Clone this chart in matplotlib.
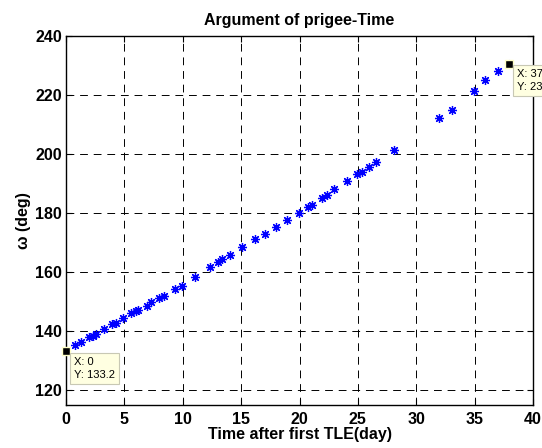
import matplotlib
matplotlib.use("Agg")
import matplotlib.pyplot as plt

plt.rcParams['font.family'] = ['Liberation Sans', 'DejaVu Sans']

days = [0.0, 0.77, 1.28, 1.97, 2.31, 2.57, 3.25, 3.94, 4.28, 4.88, 5.57, 6.00, 6.17,
        6.94, 7.28, 7.97, 8.39, 9.34, 9.94, 11.05, 12.33, 13.02, 13.36, 14.05,
        15.07, 16.19, 17.04, 17.99, 18.93, 19.96, 20.73, 21.07, 21.93, 22.36,
        22.96, 24.07, 24.93, 25.35, 25.95, 26.55, 28.09, 31.95, 33.06, 34.95,
        35.89, 37.00, 37.94]
omega = [133.2, 135.2, 136.2, 137.9, 138.5, 138.9, 140.6, 142.3, 142.9, 144.6, 146.0,
         147.0, 147.3, 148.7, 150.0, 151.4, 152.0, 154.4, 155.4, 158.4, 161.8,
         163.5, 164.5, 165.9, 168.6, 171.3, 173.0, 175.3, 177.7, 180.0, 182.1,
         182.7, 185.1, 186.1, 188.1, 190.8, 193.2, 193.9, 195.5, 197.2, 201.3,
         212.1, 215.1, 221.2, 225.2, 228.3, 230.6]

tip_first = (0, 133.2)
tip_first_text = "X: 0\nY: 133.2"
tip_last = (37.94, 230.6)
tip_last_text = "X: 37.94\nY: 230.6"

FS = 11.5

fig = plt.figure(figsize=(5.42, 4.48), dpi=100)
ax = fig.add_axes([66/542, 1-405/448, (533-66)/542, (405-36)/448])

ax.plot(days, omega, linestyle='none', marker=(8, 2, 0), markersize=6.5,
        color='#0000ff', markeredgewidth=0.9)

ax.set_xlim(0, 40)
ax.set_ylim(115, 240)
ax.set_xticks(range(0, 41, 5))
ax.set_yticks(range(120, 241, 20))
ax.grid(True, color='black', linestyle=(0, (8, 6)), linewidth=0.7)
ax.tick_params(direction='in', top=True, right=True, length=4, width=0.8,
               labelsize=FS)
ax.tick_params(axis='x', pad=5)
ax.tick_params(axis='y', pad=3)
for lab in ax.get_xticklabels() + ax.get_yticklabels():
    lab.set_fontweight('bold')
for s in ax.spines.values():
    s.set_linewidth(1.0)

ax.set_title('Argument of prigee-Time', fontsize=FS, fontweight='bold', pad=8)
ax.set_xlabel('Time after first TLE(day)', fontsize=FS, fontweight='bold', labelpad=0)
ax.set_ylabel('ω (deg)', fontsize=FS, fontweight='bold', labelpad=3)

# data tips
for (tx, ty) in [tip_first, tip_last]:
    ax.plot([tx], [ty], marker='s', color='black', markersize=6, clip_on=False,
            markeredgecolor='#ffffc8', markeredgewidth=1, zorder=5)

bbox = dict(boxstyle='square,pad=0.35', facecolor='#ffffe1', edgecolor='#c8c8b4', linewidth=0.8)
ax.annotate(tip_first_text, xy=tip_first, xytext=(6, -4), textcoords='offset points',
            fontsize=8, va='top', ha='left', bbox=bbox, linespacing=1.35,
            annotation_clip=False, zorder=6)
ax.annotate(tip_last_text, xy=tip_last, xytext=(6, -4), textcoords='offset points',
            fontsize=8, va='top', ha='left', bbox=bbox, linespacing=1.35,
            annotation_clip=False, zorder=6)

fig.savefig('out.png', dpi=100)
